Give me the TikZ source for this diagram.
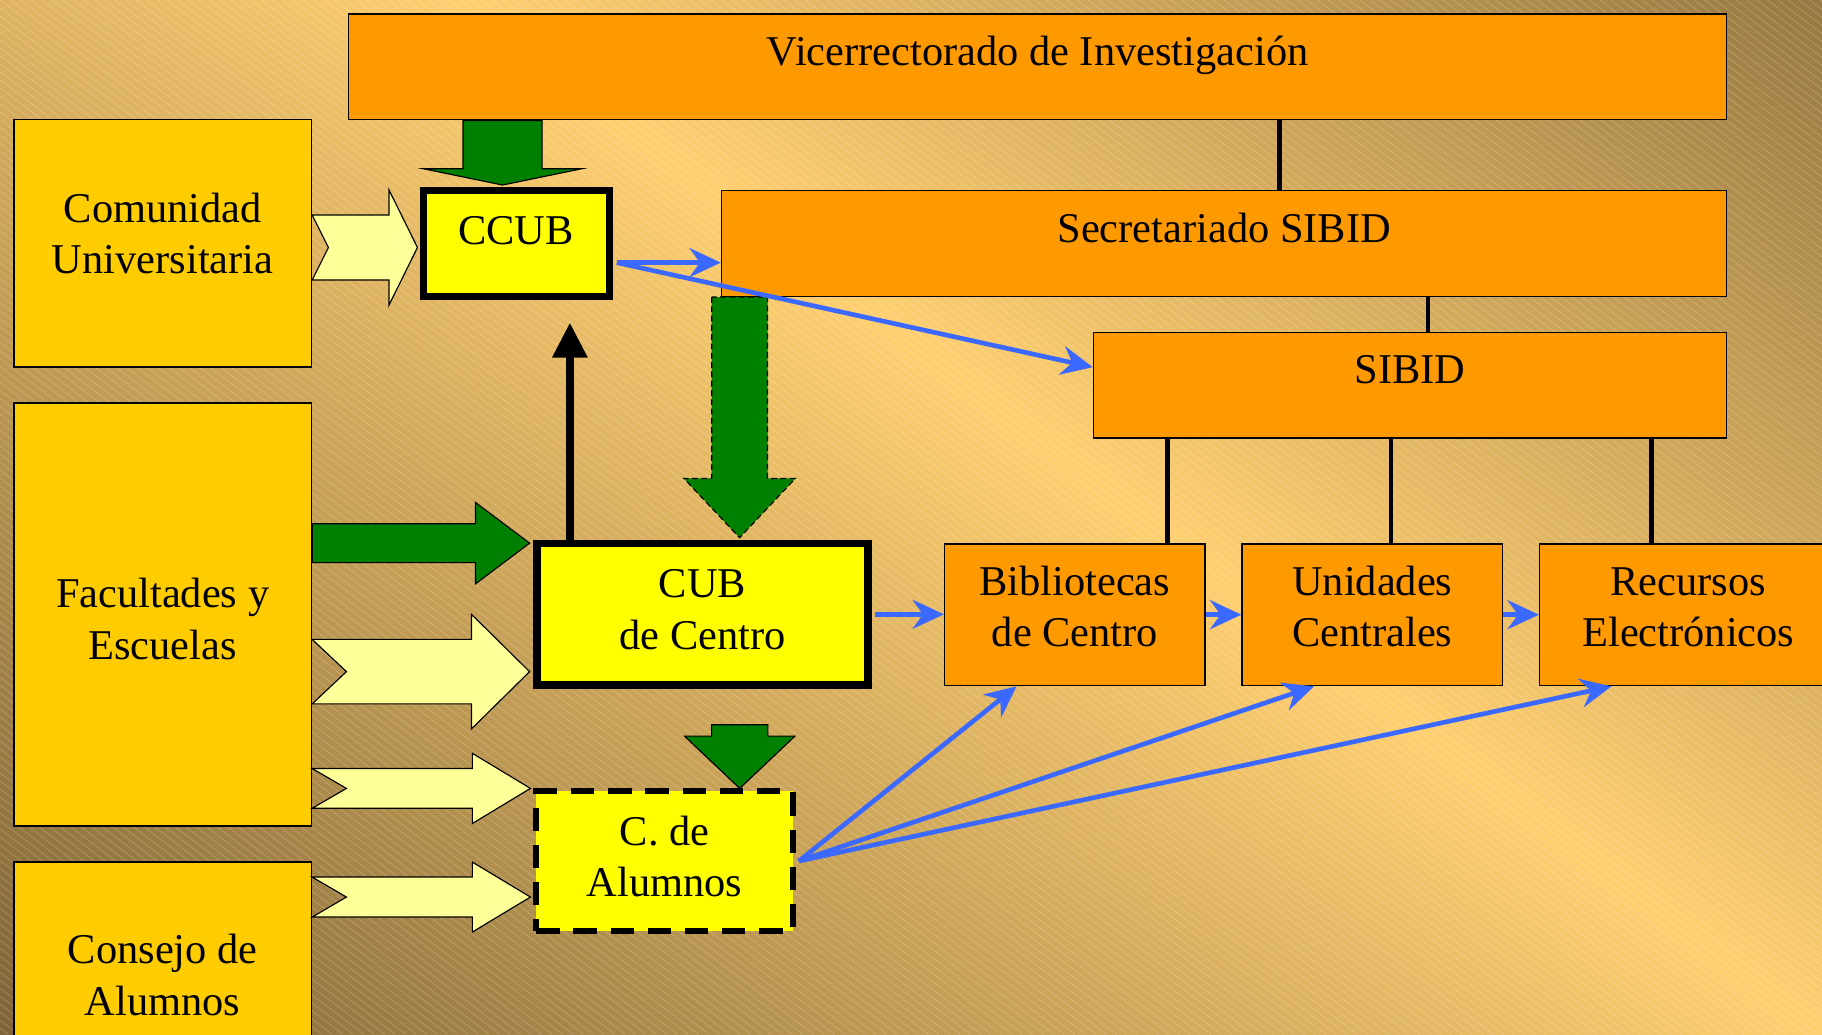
\documentclass[tikz,border=0pt]{standalone}
\usepackage{fontspec}
\setmainfont{Liberation Serif}
\usetikzlibrary{arrows.meta,calc}
\definecolor{bgLight}{RGB}{255,207,112}
\definecolor{bgDarkA}{RGB}{122,97,53}
\definecolor{bgDarkB}{RGB}{110,87,47}
\definecolor{orangeBox}{RGB}{255,153,0}
\definecolor{goldBox}{RGB}{255,204,0}
\definecolor{yellowBox}{RGB}{255,255,0}
\definecolor{paleArrow}{RGB}{255,255,153}
\definecolor{greenArrow}{RGB}{0,128,0}
\definecolor{blueLine}{RGB}{59,104,255}
% two centred lines, baseline at the first line
\newcommand\twolines[2]{\begin{tabular}[t]{@{}c@{}}#1\\#2\end{tabular}}
% horizontal block arrow: style, tail, tip, shaft half width, head half width, head length, notch
\newcommand\hblockarrow[7]{%
  \path[#1] let \p1=(#2), \p2=(#3) in
    (\x1,\y2+#4) -- (\x2-#6,\y2+#4) -- (\x2-#6,\y2+#5) -- (\x2,\y2)
    -- (\x2-#6,\y2-#5) -- (\x2-#6,\y2-#4) -- (\x1,\y2-#4) -- (\x1+#7,\y2) -- cycle;}
% vertical (downward) block arrow: style, tail, tip, shaft half width, head half width, head length
\newcommand\vblockarrow[6]{%
  \path[#1] let \p1=(#2), \p2=(#3) in
    (\x2-#4,\y1) -- (\x2-#4,\y2+#6) -- (\x2-#5,\y2+#6) -- (\x2,\y2)
    -- (\x2+#5,\y2+#6) -- (\x2+#4,\y2+#6) -- (\x2+#4,\y1) -- cycle;}
\tikzset{
  obox/.style={rectangle, draw=black, line width=1.3pt, fill=orangeBox, inner sep=0pt},
  gbox/.style={rectangle, draw=black, line width=1.3pt, fill=goldBox, inner sep=0pt},
  ybox/.style={rectangle, draw=black, line width=6.5pt, fill=yellowBox, inner sep=0pt},
  dbox/.style={ybox, line width=5pt, dash pattern=on 20pt off 12pt},
  lbl/.style={font=\fontsize{36.5}{44}\selectfont, inner sep=0pt, anchor=base, text=black},
  tree/.style={draw=black, line width=4pt},
  bluearrow/.style={draw=blueLine, line width=4pt, -{Stealth[length=27pt,width=25pt,inset=9pt]}},
  palearrow/.style={fill=paleArrow, draw=black, line width=1pt},
  greenarrow/.style={fill=greenArrow, draw=black, line width=1pt},
  greendashed/.style={greenarrow, dash pattern=on 5pt off 3pt},
  uparrow/.style={draw=black, line width=6.3pt, -{Triangle[length=30pt,width=29pt]}},
  hatch/.style={draw=white, opacity=0.22, line width=0.6pt},
}
\begin{document}
\begin{tikzpicture}[x=1pt,y=-1pt]
\useasboundingbox (0,0) rectangle (1568,890);
% background
\begin{scope}
  \clip (0,0) rectangle (1568,890);
  \begin{scope}[transform canvas={shift={(400pt,0pt)},rotate=-37.3}]
    \shade[bottom color=bgDarkA, top color=bgDarkB, middle color=bgLight]
      (-450pt,-980pt) rectangle (1600pt,980pt);
  \end{scope}
  \draw[hatch] \foreach \i in {-1170,-1161,...,1568} {(\i,0) -- ++(1168,890)};
\end{scope}

% boxes
\node[obox, minimum width=1186pt, minimum height=91pt] (vic) at (893,57.5) {};
\node[obox, minimum width=865pt, minimum height=91pt] (sec) at (1053.5,209.5) {};
\node[obox, minimum width=545pt, minimum height=91pt] (sibid) at (1213.5,331.5) {};
\node[obox, minimum width=224pt, minimum height=122pt] (bib) at (925,529) {};
\node[obox, minimum width=224pt, minimum height=122pt] (uni) at (1181,529) {};
\node[obox, minimum width=256pt, minimum height=122pt] (rec) at (1453,529) {};
\node[gbox, minimum width=256pt, minimum height=213pt] (com) at (140,209.5) {};
\node[gbox, minimum width=256pt, minimum height=364pt] (fac) at (140,529) {};
\node[gbox, minimum width=256pt, minimum height=213pt] (con) at (140,848.5) {};
\node[ybox, minimum width=160pt, minimum height=91pt] (ccub) at (444.5,209.5) {};
\node[ybox, minimum width=285pt, minimum height=122pt] (cub) at (604.5,528.7) {};
\node[dbox, minimum width=221pt, minimum height=120pt] (calu) at (572,741) {};

% tree connectors
\draw[tree] ([xshift=208pt]vic.south) -- ([xshift=208pt]vic.south |- sec.north);
\draw[tree] ([xshift=175.5pt]sec.south) -- ([xshift=175.5pt]sec.south |- sibid.north);
\draw[tree] ([xshift=80pt]bib.north) -- ([xshift=80pt]bib.north |- sibid.south);
\draw[tree] ([xshift=16pt]uni.north) -- ([xshift=16pt]uni.north |- sibid.south);
\draw[tree] ([xshift=-32pt]rec.north) -- ([xshift=-32pt]rec.north |- sibid.south);

% block arrows
\vblockarrow{greenarrow}{vic.south}{[xshift=-12pt,yshift=1.5pt]ccub.north}{34pt}{68pt}{14pt}
\hblockarrow{palearrow}{com.east}{[xshift=-2pt,yshift=-3.5pt]ccub.west}{28pt}{49.6pt}{24.5pt}{14pt}
\hblockarrow{greenarrow}{fac.east}{[xshift=-3pt,yshift=-3pt]cub.north west}{16.75pt}{35pt}{46.5pt}{0pt}
\hblockarrow{palearrow}{fac.east}{[xshift=-3pt,yshift=-49.3pt]cub.west}{27.75pt}{49.3pt}{50pt}{29.5pt}
\hblockarrow{palearrow}{fac.east}{[xshift=-2.5pt]calu.north west}{17.1pt}{30.2pt}{50pt}{29.5pt}
\hblockarrow{palearrow}{con.east}{[xshift=-2.5pt,yshift=-31pt]calu.west}{17.2pt}{30.1pt}{50pt}{29.5pt}
\vblockarrow{greendashed}{sec.south}{[xshift=32pt,yshift=1.7pt]cub.north}{24pt}{48pt}{51pt}
\vblockarrow{greenarrow}{[yshift=-30.8pt]cub.south}{[xshift=64.6pt]calu.north}{24.2pt}{47.5pt}{45pt}

% black arrow up
\draw[uparrow] ([xshift=31.7pt]cub.north west) -- ([xshift=31.7pt,yshift=-19.5pt]cub.north west |- ccub.south);

% blue arrows
\draw[bluearrow] ([xshift=3pt,yshift=-16.5pt]ccub.east) -- ([yshift=-16.5pt]sec.west |- ccub.east);
\draw[bluearrow] ([xshift=3pt,yshift=-16.5pt]ccub.east) -- ([yshift=15.5pt]sibid.west);
\draw[bluearrow] ([xshift=3pt]cub.east) -- (cub.east -| bib.west);
\draw[bluearrow] (bib.east) -- (uni.west);
\draw[bluearrow] (uni.east) -- (rec.west);
\draw[bluearrow] ([xshift=2.5pt]calu.east) -- ([xshift=62.5pt]bib.south west);
\draw[bluearrow] ([xshift=2.5pt]calu.east) -- ([xshift=62.5pt]uni.south west);
\draw[bluearrow] ([xshift=2.5pt]calu.east) -- ([xshift=62.5pt]rec.south west);

% texts
\node[lbl] (vicT) at (893,56.5) {Vicerrectorado de Investigación};
\node[lbl] (secT) at (1053.5,208.5) {Secretariado SIBID};
\node[lbl] (sibidT) at (1213.5,330) {SIBID};
\node[lbl] (ccubT) at (444,210.8) {CCUB};
\node[lbl] (comT) at (140,191.6) {\twolines{Comunidad}{Universitaria}};
\node[lbl] (facT) at (140,523.2) {\twolines{Facultades y}{Escuelas}};
\node[lbl] (conT) at (140,829.6) {\twolines{Consejo de}{Alumnos}};
\node[lbl] (cubT) at (604.5,514.6) {\twolines{CUB}{de Centro}};
\node[lbl] (caluT) at (572,727.5) {\twolines{C. de}{Alumnos}};
\node[lbl] (bibT) at (925,512.3) {\twolines{Bibliotecas}{de Centro}};
\node[lbl] (uniT) at (1181,512.3) {\twolines{Unidades}{Centrales}};
\node[lbl] (recT) at (1453,512.3) {\twolines{Recursos}{Electrónicos}};
\end{tikzpicture}
\end{document}
